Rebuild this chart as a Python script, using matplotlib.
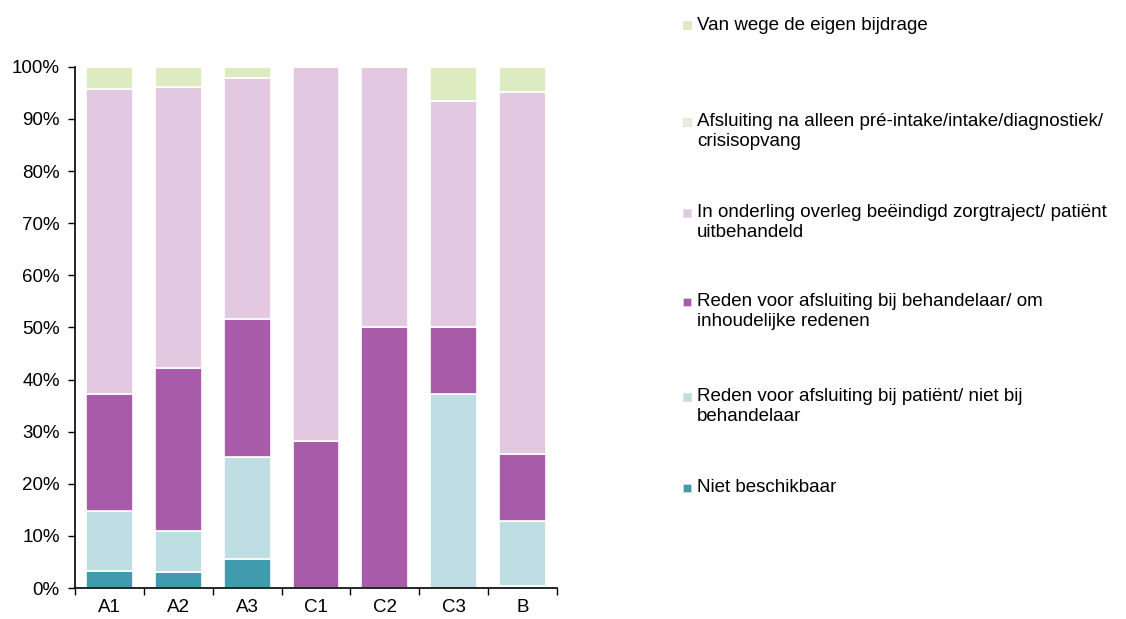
import matplotlib.pyplot as plt
import numpy as np
from matplotlib.patches import Rectangle

plt.rcParams['font.family'] = ['Liberation Sans', 'DejaVu Sans']

categories = ['A1', 'A2', 'A3', 'C1', 'C2', 'C3', 'B']

# stacked from bottom to top, values in %
niet_beschikbaar = [3.3, 3.0, 5.5, 0.0, 0.0, 0.0, 0.4]
reden_patient = [11.5, 8.0, 19.6, 0.0, 0.0, 37.3, 12.4]
reden_behandelaar = [22.4, 31.3, 26.6, 28.2, 50.0, 12.7, 13.0]
onderling_overleg = [58.6, 53.8, 46.1, 71.8, 50.0, 43.4, 69.3]
alleen_intake = [0.0, 0.0, 0.0, 0.0, 0.0, 0.0, 0.0]
eigen_bijdrage = [4.2, 3.9, 2.2, 0.0, 0.0, 6.6, 4.9]

series = [
    ('Niet beschikbaar', niet_beschikbaar, '#3f9bad'),
    ('Reden voor afsluiting bij patiënt/ niet bij\nbehandelaar', reden_patient, '#bfdee3'),
    ('Reden voor afsluiting bij behandelaar/ om\ninhoudelijke redenen', reden_behandelaar, '#a85ba8'),
    ('In onderling overleg beëindigd zorgtraject/ patiënt\nuitbehandeld', onderling_overleg, '#e3c8e2'),
    ('Afsluiting na alleen pré-intake/intake/diagnostiek/\ncrisisopvang', alleen_intake, '#ecebdc'),
    ('Van wege de eigen bijdrage', eigen_bijdrage, '#ddebc1'),
]

fig = plt.figure(figsize=(11.26, 6.19), dpi=100)
ax = fig.add_axes([0.0666, 0.050, 0.428, 0.842])

x = np.arange(len(categories))
bottom = np.zeros(len(categories))
for name, vals, col in series:
    vals = np.array(vals)
    ax.bar(x, vals, bottom=bottom, width=0.68, color=col, edgecolor='white', linewidth=1.2)
    bottom += vals

ax.set_xlim(-0.5, len(categories) - 0.5)
ax.set_ylim(0, 100)
ax.set_yticks(np.arange(0, 101, 10))
ax.set_yticklabels([f'{v}%' for v in range(0, 101, 10)], fontsize=13.5)
ax.set_xticks(np.arange(-0.5, len(categories), 1.0))
ax.set_xticklabels([])
ax.set_xticks(x, minor=True)
ax.set_xticklabels(categories, minor=True, fontsize=13.5)
ax.tick_params(axis='x', which='minor', length=0, pad=8)
ax.tick_params(axis='x', which='major', length=5, direction='out', width=1)
ax.tick_params(axis='y', length=5, direction='out', width=1, pad=6)
for s in ['top', 'right']:
    ax.spines[s].set_visible(False)
ax.spines['left'].set_linewidth(1.2)
ax.spines['bottom'].set_linewidth(1.2)

# legend, top entry first
legend_y = [0.960, 0.804, 0.657, 0.513, 0.360, 0.213]
for (name, vals, col), ly in zip(series[::-1], legend_y):
    fig.patches.append(Rectangle((0.6065, ly - 0.0075), 0.0072, 0.0131,
                                 transform=fig.transFigure, facecolor=col,
                                 edgecolor='#dddddd', linewidth=0.5))
    fig.text(0.619, ly + 0.013, name, fontsize=13.5, va='top', ha='left', linespacing=1.2)

fig.savefig('out.png', dpi=100)
